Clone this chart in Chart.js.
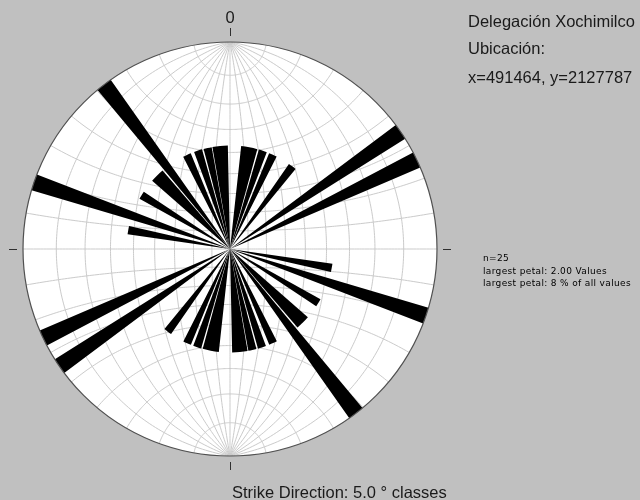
<!DOCTYPE html>
<html><head><meta charset="utf-8">
<script src="https://cdn.jsdelivr.net/npm/chart.js@4.4.1/dist/chart.umd.min.js"></script>
<style>
html,body{margin:0;padding:0;background:#c0c0c0;}
#wrap{position:relative;width:640px;height:500px;overflow:hidden;background:#c0c0c0;}
canvas{position:absolute;left:0;top:0;}
.t{position:absolute;font-family:"Liberation Sans",Arial,sans-serif;font-size:16.5px;line-height:16.5px;color:#1a1a1a;white-space:nowrap;}
.s{position:absolute;font-family:"DejaVu Sans",sans-serif;font-size:9px;line-height:12.5px;letter-spacing:0.35px;color:#000;white-space:nowrap;}
</style></head><body>
<div id="wrap">
<canvas id="c" width="640" height="500"></canvas>
<div class="t" id="north" style="left:0;width:460px;text-align:center;top:9px;">0</div>
<div class="t" id="l1" style="left:468px;top:12.7px;">Delegación Xochimilco</div>
<div class="t" id="l2" style="left:468px;top:40.3px;">Ubicación:</div>
<div class="t" id="l3" style="left:468px;top:68.7px;">x=491464, y=2127787</div>
<div class="s" id="stats" style="left:483px;top:252.3px;">n=25<br>largest petal: 2.00 Values<br>largest petal: 8 % of all values</div>
<div class="t" id="xl" style="left:232px;top:483.5px;">Strike Direction: 5.0 ° classes</div>
</div>
<script>
// ---- data (strike directions, degrees, read from the rose) ----
const strikeMeasurements = [8.5, 13, 18.5, 24.5, 37, 55.5, 55.5, 64.5, 64.5, 100.5, 108.8, 108.8,
  121.3, 133.5, 137, 142.5, 142.5, 155.4, 162, 167.5, 172.5, 176.5];
const classWidth = 5;          // 5.0 degree classes
const largestPetal = 2;        // values
const directionLabels = ['0'];

// ---- build class counts (bidirectional strike rose) ----
const nClasses = 360 / classWidth;
const classCounts = new Array(nClasses).fill(0);
strikeMeasurements.forEach(m => {
  classCounts[Math.floor(m / classWidth) % nClasses] += 1;
  classCounts[Math.floor((m + 180) / classWidth) % nClasses] += 1;
});
const petalWidth = 4.6;
const petals = [];
strikeMeasurements.forEach(m => {
  const c = classCounts[Math.floor(m / classWidth) % nClasses];
  petals.push({dir: m, count: c});
  petals.push({dir: (m + 180) % 360, count: c});
});
// raster into fine angular cells, then compress into runs for the polar-area chart
const step = 0.1;
const cells = [];
for (let i = 0; i < 360 / step; i++) {
  const a = i * step + step / 2;
  let v = 0;
  petals.forEach(p => {
    let d = Math.abs(a - p.dir); d = Math.min(d, 360 - d);
    if (d <= petalWidth / 2) v = Math.max(v, p.count);
  });
  cells.push(v);
}
const runs = [];
cells.forEach(v => {
  const last = runs[runs.length - 1];
  if (last && last.value === v) last.angle += step; else runs.push({value: v, angle: step});
});

const stereonet = {
  id: 'stereonet',
  beforeDatasetsDraw(chart) {
    const s = chart.scales.r, ctx = chart.ctx;
    const cx = s.xCenter, cy = s.yCenter, R = s.drawingArea;
    const P = v => { const k = R / (1 + v[2]); return [cx + v[0] * k, cy - v[1] * k]; };
    ctx.save();
    ctx.fillStyle = '#ffffff';
    ctx.beginPath(); ctx.arc(cx, cy, R, 0, Math.PI * 2); ctx.fill();
    ctx.strokeStyle = '#cbcbcb'; ctx.lineWidth = 1;
    const rad = Math.PI / 180;
    for (let d = 10; d < 180; d += 10) {
      const dv = [Math.cos(d * rad), 0, Math.sin(d * rad)];
      ctx.beginPath();
      for (let t = 0; t <= 180; t += 1) {
        const ct = Math.cos(t * rad), st = Math.sin(t * rad);
        const p = P([st * dv[0], ct, Math.max(0, st * dv[2])]);
        if (t === 0) ctx.moveTo(p[0], p[1]); else ctx.lineTo(p[0], p[1]);
      }
      ctx.stroke();
    }
    for (let r = 10; r < 180; r += 10) {
      const sr = Math.sin(r * rad), cr = Math.cos(r * rad);
      ctx.beginPath();
      for (let f = 0; f <= 180; f += 1) {
        const p = P([sr * Math.cos(f * rad), cr, Math.max(0, sr * Math.sin(f * rad))]);
        if (f === 0) ctx.moveTo(p[0], p[1]); else ctx.lineTo(p[0], p[1]);
      }
      ctx.stroke();
    }
    ctx.restore();
  },
  afterDatasetsDraw(chart) {
    const s = chart.scales.r, ctx = chart.ctx;
    const cx = s.xCenter, cy = s.yCenter, R = s.drawingArea;
    ctx.save();
    ctx.strokeStyle = '#505050'; ctx.lineWidth = 1.2;
    ctx.beginPath(); ctx.arc(cx, cy, R, 0, Math.PI * 2); ctx.stroke();
    ctx.strokeStyle = '#303030'; ctx.lineWidth = 1;
    [[0, -1], [1, 0], [0, 1], [-1, 0]].forEach(([dx, dy]) => {
      ctx.beginPath();
      ctx.moveTo(cx + dx * (R + 6) + 0.5 * (dx === 0), cy + dy * (R + 6) + 0.5 * (dy === 0));
      ctx.lineTo(cx + dx * (R + 14) + 0.5 * (dx === 0), cy + dy * (R + 14) + 0.5 * (dy === 0));
      ctx.stroke();
    });
    ctx.restore();
  }
};

new Chart(document.getElementById('c'), {
  type: 'polarArea',
  data: {
    labels: runs.map((r, i) => String(i)),
    datasets: [{
      data: runs.map(r => r.value),
      angle: ctx => runs[ctx.dataIndex].angle,
      backgroundColor: '#000000',
      borderWidth: 0
    }]
  },
  options: {
    responsive: false,
    animation: false,
    events: [],
    layout: {padding: {left: 23, right: 203, top: 42, bottom: 44}},
    plugins: {legend: {display: false}, tooltip: {enabled: false}},
    scales: {
      r: {
        min: 0, max: largestPetal, startAngle: 0,
        grid: {display: false}, angleLines: {display: false},
        ticks: {display: false}, pointLabels: {display: false}
      }
    }
  },
  plugins: [stereonet]
});
</script>
</body></html>
